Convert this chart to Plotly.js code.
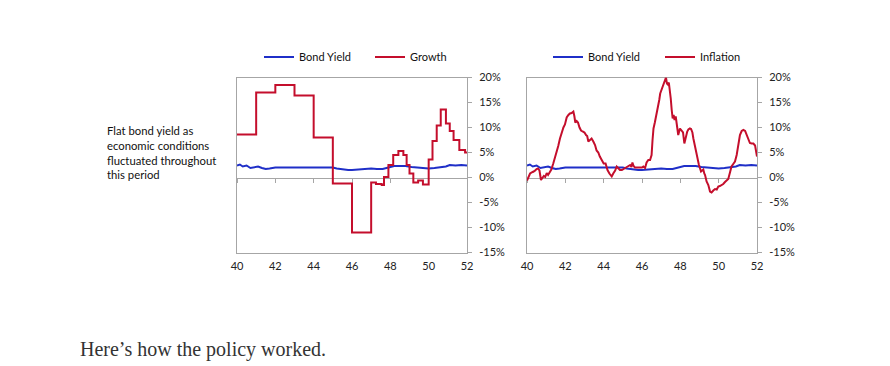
<!DOCTYPE html>
<html>
<head>
<meta charset="utf-8">
<script src="https://cdn.plot.ly/plotly-3.0.1.min.js"></script>
<style>
  html, body { margin: 0; padding: 0; background: #fff; }
  #chart { width: 890px; height: 366px; }
</style>
</head>
<body>
<div id="chart"></div>
<script>
// ---- data (years 1940–1952, values in %) ----
const bondX = [40.0,40.15,40.3,40.5,40.7,40.9,41.1,41.3,41.5,41.7,42.0,42.5,43.0,43.5,44.0,44.5,45.0,45.2,45.5,45.8,46.0,46.3,46.6,47.0,47.3,47.6,47.9,48.2,48.5,48.8,49.1,49.4,49.7,50.0,50.3,50.6,50.9,51.1,51.4,51.7,52.0];
const bondY = [2.4,2.6,2.2,2.4,1.9,2.1,2.2,1.9,1.7,1.8,2.0,2.0,2.0,2.0,2.0,2.0,2.0,1.8,1.6,1.5,1.5,1.6,1.7,1.8,1.7,1.7,2.0,2.3,2.3,2.3,2.1,2.0,1.8,1.8,1.9,2.0,2.2,2.5,2.4,2.5,2.4];

const growthX = [40,41,42,43,44,45,46,47,47.25,47.55,47.67,47.9,48.15,48.42,48.68,48.85,49.0,49.2,49.45,49.7,50.0,50.2,50.42,50.63,50.9,51.1,51.3,51.6,51.9,52.0];
const growthY = [8.6,17.0,18.5,16.4,8.0,-1.2,-11.0,-1.0,-1.3,-1.5,0.1,2.5,4.5,5.3,4.5,2.5,0.8,-1.0,-0.6,-1.4,3.6,7.3,10.4,13.6,10.8,9.3,7.5,5.5,5.0,5.0];

const inflX = [40.0,40.08,40.16,40.3,40.4,40.5,40.57,40.65,40.73,40.8,40.88,40.95,41.03,41.1,41.2,41.27,41.37,41.45,41.55,41.63,41.72,41.8,41.9,41.98,42.07,42.16,42.24,42.33,42.42,42.47,42.52,42.59,42.66,42.74,42.82,42.9,43.0,43.08,43.14,43.2,43.3,43.37,43.46,43.55,43.63,43.72,43.8,43.9,44.0,44.1,44.2,44.3,44.42,44.5,44.6,44.68,44.77,44.85,44.95,45.03,45.12,45.2,45.3,45.38,45.45,45.5,45.55,45.63,45.72,45.8,45.9,46.0,46.07,46.16,46.24,46.33,46.42,46.5,46.55,46.6,46.67,46.73,46.8,46.85,46.9,46.95,47.02,47.08,47.14,47.2,47.25,47.3,47.35,47.4,47.45,47.5,47.55,47.6,47.65,47.7,47.76,47.81,47.89,47.98,48.07,48.14,48.21,48.29,48.36,48.42,48.5,48.56,48.63,48.68,48.73,48.8,48.85,48.92,48.97,49.03,49.08,49.14,49.2,49.25,49.29,49.37,49.46,49.55,49.63,49.72,49.81,49.9,49.98,50.06,50.15,50.24,50.33,50.42,50.5,50.59,50.67,50.76,50.85,50.94,51.02,51.11,51.2,51.29,51.38,51.46,51.55,51.63,51.72,51.81,51.9,51.95,52.0];
const inflY = [-0.6,0.2,0.8,1.1,1.3,1.7,1.8,1.4,-0.5,-0.1,0.3,0.1,0.9,0.5,1.2,1.6,2.8,3.8,5.2,6.3,7.8,9.0,10.0,10.6,12.0,12.5,12.8,12.9,13.2,12.3,11.0,11.3,11.0,10.0,9.4,9.2,9.0,8.5,8.3,7.2,7.5,7.8,7.2,6.5,5.4,5.0,4.2,3.5,2.8,2.8,1.5,0.8,0.2,0.8,1.4,2.2,1.8,1.5,1.5,1.7,2.0,2.2,2.3,2.5,2.1,3.0,2.4,2.0,2.0,2.0,1.9,2.0,2.2,1.9,3.0,3.5,3.5,4.5,7.5,9.8,11.0,12.0,13.2,14.0,15.5,16.8,17.5,17.9,18.5,19.3,20.0,18.8,18.6,19.0,17.8,15.8,13.5,11.8,12.5,11.5,12.2,10.5,8.5,9.8,9.2,9.0,6.8,8.2,9.2,9.6,9.8,9.7,9.0,7.8,6.8,5.5,4.5,3.2,2.5,1.8,1.2,1.4,1.6,0.8,0.5,-0.8,-1.5,-2.8,-3.0,-2.6,-2.3,-2.4,-1.8,-1.7,-1.5,-1.3,-0.9,-0.6,-0.3,1.0,2.2,2.7,3.2,4.5,6.5,8.5,9.3,9.5,9.3,8.6,7.6,6.9,6.8,6.8,6.4,5.5,4.2];

const xTickVals = [40,42,44,46,48,50,52];
const xTickText = ['40','42','44','46','48','50','52'];
const yTickVals = [20,15,10,5,0,-5,-10,-15];
const yTickText = ['20%','15%','10%','5%','0%','-5%','-10%','-15%'];

const noteLines = ['Flat bond yield as', 'economic conditions', 'fluctuated throughout', 'this period'];
const captionText = 'Here’s how the policy worked.';

// ---- styling ----
const W = 890, H = 366;
const BLUE = '#1f2fc8', RED = '#c40e2c', AX = '#a6a6a6';
const FONT = 'Lato, "Liberation Sans", sans-serif';

const yBot = (H - 252.5) / H, yTop = (H - 77.5) / H;
const zeroPos = yBot + (15 / 35) * (yTop - yBot);
const leftDom = [237 / W, 467 / W];
const rightDom = [527 / W, 757 / W];

const traces = [
  {x: bondX, y: bondY, name: 'Bond Yield', type: 'scatter', mode: 'lines',
   line: {color: BLUE, width: 2}, xaxis: 'x', yaxis: 'y', legend: 'legend'},
  {x: growthX, y: growthY, name: 'Growth', type: 'scatter', mode: 'lines',
   line: {color: RED, width: 2, shape: 'hv'}, xaxis: 'x3', yaxis: 'y', legend: 'legend2'},
  {x: bondX, y: bondY, name: 'Bond Yield', type: 'scatter', mode: 'lines',
   line: {color: BLUE, width: 2}, xaxis: 'x2', yaxis: 'y2', legend: 'legend3'},
  {x: inflX, y: inflY, name: 'Inflation', type: 'scatter', mode: 'lines',
   line: {color: RED, width: 2}, xaxis: 'x4', yaxis: 'y2', legend: 'legend4'}
];

function xMain(dom, anchor) {
  return {domain: dom, anchor: anchor, range: [40, 52], tickmode: 'array',
    tickvals: xTickVals, ticktext: xTickText, ticks: '', showgrid: false, zeroline: false,
    showline: true, mirror: true, linecolor: AX, linewidth: 1, layer: 'below traces',
    tickfont: {family: FONT, size: 11, color: '#222'}, ticklabelstandoff: 3};
}
function xZero(dom, over) {
  return {domain: dom, overlaying: over, anchor: 'free', position: zeroPos, range: [40, 52],
    tickmode: 'array', tickvals: xTickVals, ticks: 'outside', ticklen: 4, tickcolor: AX,
    showticklabels: false, showgrid: false, zeroline: false, showline: true,
    linecolor: AX, linewidth: 1, layer: 'below traces'};
}
function yAx(anchor) {
  return {domain: [yBot, yTop], anchor: anchor, side: 'right', range: [-15, 20],
    tickmode: 'array', tickvals: yTickVals, ticktext: yTickText, ticks: 'outside',
    ticklen: 4, tickcolor: AX, showgrid: false, zeroline: false, showline: true,
    mirror: true, linecolor: AX, linewidth: 1, layer: 'below traces',
    tickfont: {family: FONT, size: 11, color: '#222'}, ticklabelstandoff: 5};
}

const legendBase = {orientation: 'h', yanchor: 'middle', xanchor: 'left', y: (H - 57) / H,
  font: {family: FONT, size: 11, color: '#111'}, bgcolor: 'rgba(0,0,0,0)',
  itemclick: false, tracegroupgap: 0};
const lg = (px) => Object.assign({}, legendBase, {x: px / W});

const noteAnn = noteLines.map((t, i) => ({
  text: t, xref: 'paper', yref: 'paper', x: 105 / W, y: (H - (131 + i * 14.6)) / H,
  xanchor: 'left', yanchor: 'middle', align: 'left', showarrow: false,
  font: {family: FONT, size: 11.3, color: '#111'}}));

const layout = {
  width: W, height: H, margin: {l: 0, r: 0, t: 0, b: 0},
  paper_bgcolor: '#fff', plot_bgcolor: '#fff', showlegend: true,
  font: {family: FONT, size: 11, color: '#222'},
  xaxis: xMain(leftDom, 'y'),
  yaxis: yAx('x'),
  xaxis2: xMain(rightDom, 'y2'),
  yaxis2: yAx('x2'),
  xaxis3: xZero(leftDom, 'x'),
  xaxis4: xZero(rightDom, 'x2'),
  legend: lg(259), legend2: lg(370), legend3: lg(548), legend4: lg(660),
  annotations: noteAnn.concat([
    {text: captionText, xref: 'paper', yref: 'paper', x: 78 / W, y: (H - 349) / H,
     xanchor: 'left', yanchor: 'middle', align: 'left', showarrow: false,
     font: {family: '"Liberation Serif", "Times New Roman", serif', size: 20, color: '#333'}}
  ])
};

Plotly.newPlot('chart', traces, layout, {staticPlot: true, displayModeBar: false});
</script>
</body>
</html>
